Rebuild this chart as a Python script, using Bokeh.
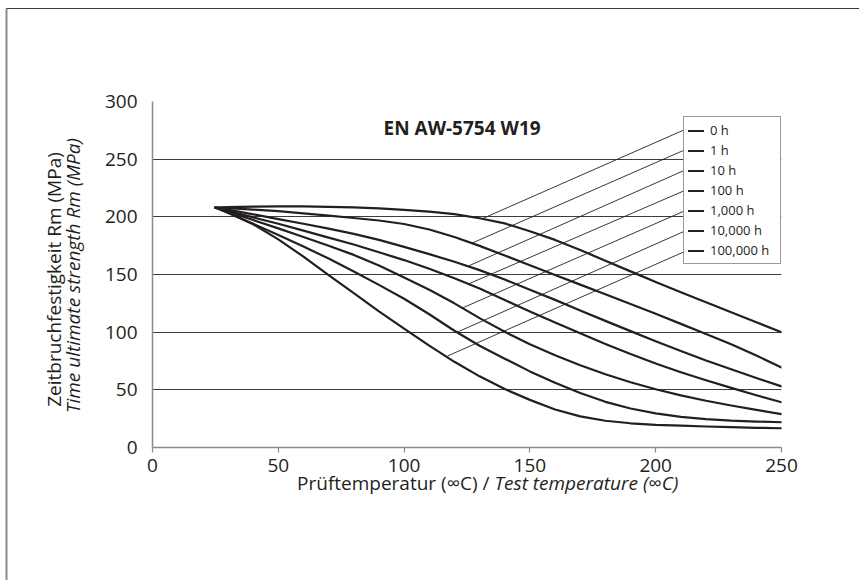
import math
from bokeh.plotting import figure
from bokeh.models import Range1d, FixedTicker, Label, Legend, LegendItem
from bokeh.core.properties import value
from bokeh.embed import file_html
from bokeh.resources import INLINE

# ---------------- data ----------------
temps = [25, 30, 40, 50, 60, 70, 80, 90, 100, 110, 120, 130, 140, 150,
         160, 170, 180, 190, 200, 210, 220, 230, 240, 250]

rm_0h = [208, 208.4, 208.9, 209, 209, 208.7, 208.2, 207.3, 206, 204.5,
         202.3, 198.8, 194.3, 187.5, 180, 171.2, 162, 152.7, 143.5, 134.7,
         126, 117.3, 108.6, 100]
rm_1h = [208, 207.5, 206.3, 205, 203, 201, 199, 196.8, 193.8, 189, 182.5,
         174.8, 166.5, 158, 149.6, 141.2, 132.8, 124.4, 116, 107.2, 98.4,
         89.5, 79.8, 69.4]
rm_10h = [208, 206.2, 202.2, 198, 194, 189.8, 185.2, 180, 174, 167.7, 161,
          153.8, 145.6, 136.8, 128, 118.8, 109.8, 100.9, 92.2, 83.6, 75.4,
          67.8, 60.2, 53]
rm_100h = [208, 205.2, 199.5, 194, 188, 182, 176, 169.3, 162.5, 155, 146.8,
           137.8, 127.8, 118, 108.4, 99, 89.8, 81, 72.8, 65.3, 58.3, 51.7,
           45.3, 39.2]
rm_1000h = [208, 204.5, 197.2, 190, 182.5, 175, 167, 157.8, 147.5, 136.8,
            125, 112.2, 100.3, 89.5, 80, 71.3, 63.5, 56.6, 50.5, 45.2, 40.5,
            36.4, 32.6, 29]
rm_10000h = [208, 203.5, 194, 184.2, 174.3, 163.8, 152.6, 141, 129, 115.5,
             101.2, 88.2, 77, 66, 56.2, 47.3, 39.6, 33.8, 29.6, 26.6, 24.6,
             23.3, 22.5, 21.9]
rm_100000h = [208, 203.5, 193.5, 180.5, 165.5, 149.5, 133.8, 118, 103, 88.3,
              74.3, 61.7, 50.7, 41.3, 33, 27, 23.2, 21, 19.7, 18.9, 18.2,
              17.6, 17.1, 16.7]

series_labels = ["0 h", "1 h", "10 h", "100 h", "1,000 h", "10,000 h", "100,000 h"]
series_values = [rm_0h, rm_1h, rm_10h, rm_100h, rm_1000h, rm_10000h, rm_100000h]

# leader lines: from legend entries to a point on each curve
leader_x0 = [211.1] * 7
leader_y0 = [275.2, 257.6, 240.0, 222.4, 204.8, 187.2, 169.5]
leader_x1 = [131.2, 127.3, 125.7, 125.7, 123.3, 120.5, 117.3]
leader_y1 = [198.5, 177.5, 157.5, 141.9, 121.1, 99.4, 79.4]

x_ticks = [0, 50, 100, 150, 200, 250]
y_ticks = [0, 50, 100, 150, 200, 250, 300]
grid_ticks = [50, 100, 150, 200, 250, 300]

title_text = "EN AW-5754 W19"
ylabel_de = "Zeitbruchfestigkeit Rm (MPa)"
ylabel_en = "Time ultimate strength Rm (MPa)"
xlabel_de = "Prüftemperatur (∞C) /"
xlabel_en = "Test temperature (∞C)"

# ---------------- layout constants (canvas pixels) ----------------
W, H = 859, 580
FL, FR, FT, FB = 152, 781, 101, 447          # plot frame edges
X0, X1, Y0, Y1 = 0, 250, 0, 300              # axis ranges


def dx(px):
    """canvas x pixel -> data x"""
    return X0 + (px - FL) / (FR - FL) * (X1 - X0)


def dy(py):
    """canvas y pixel -> data y"""
    return Y0 + (FB - py) / (FB - FT) * (Y1 - Y0)


FONT = "Open Sans"
TXT = "#231f20"

p = figure(width=W, height=H, x_range=Range1d(X0, X1), y_range=Range1d(Y0, Y1),
           output_backend="svg", toolbar_location=None,
           min_border_left=FL, min_border_right=W - FR,
           min_border_top=FT, min_border_bottom=H - FB)
p.outline_line_color = None
p.background_fill_color = "white"
p.border_fill_color = "white"

# axes
p.xaxis.ticker = FixedTicker(ticks=x_ticks)
p.yaxis.ticker = FixedTicker(ticks=y_ticks)
for ax in (p.xaxis[0], p.yaxis[0]):
    ax.axis_line_color = "#8a8a8a"
    ax.axis_line_width = 1.5
    ax.major_tick_line_color = "#8a8a8a"
    ax.major_tick_line_width = 1.2
    ax.minor_tick_line_color = None
    ax.major_label_text_font = FONT
    ax.major_label_text_font_size = "19px"
    ax.major_label_text_color = TXT
p.xaxis.major_tick_in = 0
p.xaxis.major_tick_out = 5
p.xaxis.major_label_standoff = 6
p.yaxis.major_tick_in = 0
p.yaxis.major_tick_out = 0
p.yaxis.major_label_standoff = 15

p.xgrid.visible = False
p.ygrid.ticker = FixedTicker(ticks=grid_ticks)
p.ygrid.grid_line_color = "#3c3c3c"
p.ygrid.grid_line_width = 1

# leader lines
p.segment(x0=leader_x0, y0=leader_y0, x1=leader_x1, y1=leader_y1,
          line_color=TXT, line_width=0.9)

# curves
items = []
for lbl, vals in zip(series_labels, series_values):
    r = p.line(temps, vals, line_color=TXT, line_width=2.2,
               line_join="round", line_cap="round")
    items.append(LegendItem(label=lbl, renderers=[r]))

legend = Legend(items=items, location=(531, 183),
                label_text_font=FONT, label_text_font_size="13px",
                label_text_color=TXT, glyph_width=16, glyph_height=17,
                label_height=17, label_width=66, label_standoff=6,
                spacing=2, padding=4,
                border_line_color="#333333", border_line_width=1,
                background_fill_color="white", background_fill_alpha=1.0)
p.add_layout(legend)

# title (inside the frame)
p.add_layout(Label(x=231, y=320, x_units="screen", y_units="screen",
                   text=title_text, text_font=FONT, text_font_size="19px",
                   text_font_style="bold", text_color=TXT,
                   text_align="left", text_baseline="alphabetic"))

# axis titles outside the frame: text glyphs on the overlay level
p.text(x=[dx(53)], y=[dy(279)], text=[ylabel_de], angle=math.pi / 2,
       text_font=value(FONT), text_font_size="19px", text_color=TXT,
       text_align="center", text_baseline="alphabetic", level="overlay")
p.text(x=[dx(72)], y=[dy(275)], text=[ylabel_en], angle=math.pi / 2,
       text_font=value(FONT), text_font_size="19px", text_font_style="italic",
       text_color=TXT, text_align="center", text_baseline="alphabetic",
       level="overlay")
p.text(x=[dx(489)], y=[dy(482)], text=[xlabel_de],
       text_font=value(FONT), text_font_size="19px", text_color=TXT,
       text_align="right", text_baseline="alphabetic", level="overlay")
p.text(x=[dx(494)], y=[dy(482)], text=[xlabel_en],
       text_font=value(FONT), text_font_size="19px", text_font_style="italic",
       text_color=TXT, text_align="left", text_baseline="alphabetic",
       level="overlay")

# outer picture frame (left and top edges)
p.line(x=[dx(6), dx(6)], y=[dy(8), dy(H + 2)], line_color="#8c8c8c",
       line_width=2, level="overlay")
p.line(x=[dx(6), dx(W + 2)], y=[dy(8), dy(8)], line_color="#3a3a3a",
       line_width=1.2, level="overlay")

open("out.html", "w").write(file_html(p, INLINE))
